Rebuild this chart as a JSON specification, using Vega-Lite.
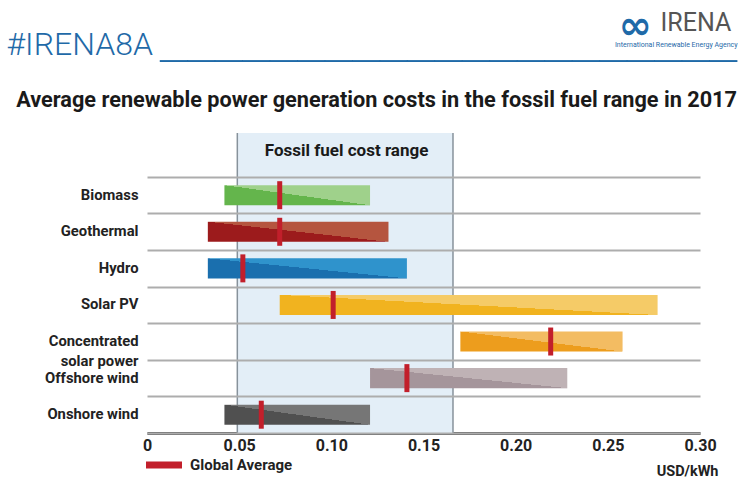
{
  "$schema": "https://vega.github.io/schema/vega-lite/v6.json",
  "width": 553,
  "height": 300,
  "autosize": "none",
  "padding": {"left": 147, "top": 133, "right": 45, "bottom": 50},
  "background": "white",
  "config": {"view": {"stroke": null}, "font": "Roboto"},
  "title": {
    "text": "_____________________",
    "subtitle": "Average renewable power generation costs in the fossil fuel range in 2017",
    "anchor": "end",
    "frame": "group",
    "dx": 37,
    "offset": -106.2,
    "font": "Liberation Sans",
    "fontWeight": "bold",
    "fontSize": 49.4,
    "color": "#1f6aa8",
    "subtitleFont": "Roboto",
    "subtitleFontSize": 21.7,
    "subtitleFontWeight": "bold",
    "subtitleColor": "#1a1a1a",
    "subtitlePadding": 23
  },
  "datasets": {
    "fossil": [{"label": "Fossil fuel cost range", "lo": 0.049, "hi": 0.166}],
    "techs": [
      {"tech": "Biomass", "lo": 0.042, "hi": 0.121, "avg": 0.072},
      {"tech": "Geothermal", "lo": 0.033, "hi": 0.131, "avg": 0.072},
      {"tech": "Hydro", "lo": 0.033, "hi": 0.141, "avg": 0.052},
      {"tech": "Solar PV", "lo": 0.072, "hi": 0.277, "avg": 0.101},
      {"tech": "Concentrated solar power", "lo": 0.17, "hi": 0.258, "avg": 0.219},
      {"tech": "Offshore wind", "lo": 0.121, "hi": 0.228, "avg": 0.141},
      {"tech": "Onshore wind", "lo": 0.042, "hi": 0.121, "avg": 0.062}
    ]
  },
  "resolve": {"axis": {"x": "independent", "y": "independent"}},
  "layer": [
    {
      "data": {"name": "fossil"},
      "mark": {"type": "rect", "color": "#e3eef7"},
      "encoding": {
        "x": {
          "field": "lo", "type": "quantitative",
          "scale": {"domain": [0, 0.3], "nice": false, "zero": true},
          "axis": {
            "orient": "top", "values": [0.108], "zindex": 1, "offset": 0,
            "labelExpr": "'Fossil fuel cost range'",
            "labelFont": "Roboto", "labelFontSize": 17, "labelFontWeight": "bold", "labelColor": "#1a1a1a",
            "labelPadding": -26, "labelFlush": false, "labelOverlap": false,
            "ticks": false, "domain": false, "grid": false,
            "title": "IRENA", "titleX": 513, "titleY": -103, "titleAngle": 0,
            "titleAlign": "left", "titleBaseline": "alphabetic",
            "titleFont": "Roboto", "titleFontSize": 25, "titleFontWeight": "normal", "titleColor": "#555555"
          }
        },
        "x2": {"field": "hi"}
      }
    },
    {
      "data": {"name": "fossil"},
      "mark": {"type": "rule", "color": "#87929b", "strokeWidth": 1.5},
      "encoding": {
        "x": {
          "field": "lo", "type": "quantitative",
          "axis": {
            "orient": "top", "offset": 0, "labels": false, "ticks": false, "domain": false, "grid": false,
            "title": "\u221e", "titleX": 471, "titleY": -95, "titleAngle": 0,
            "titleAlign": "left", "titleBaseline": "alphabetic",
            "titleFont": "DejaVu Sans", "titleFontSize": 40, "titleFontWeight": "bold", "titleColor": "#1f6aa8"
          }
        }
      }
    },
    {
      "data": {"name": "fossil"},
      "mark": {"type": "rule", "color": "#87929b", "strokeWidth": 1.5},
      "encoding": {"x": {"field": "hi", "type": "quantitative", "axis": null}}
    },
    {
      "data": {"name": "techs"},
      "mark": {"type": "bar", "height": {"band": 0.55}},
      "encoding": {
        "y": {
          "field": "tech", "type": "nominal", "sort": null,
          "scale": {"paddingInner": 0, "paddingOuter": 0.6, "align": 1},
          "axis": {
            "orient": "left",
            "labelExpr": "datum.value === 'Concentrated solar power' ? ['Concentrated', 'solar power'] : datum.value",
            "labelFont": "Roboto", "labelFontSize": 14.8, "labelFontWeight": "bold", "labelColor": "#222222",
            "labelPadding": 9, "labelLineHeight": 20,
            "ticks": false, "domain": false,
            "grid": true, "gridColor": "#adadad", "gridWidth": 2, "tickBand": "extent", "zindex": 1,
            "title": "#IRENA8A", "titleX": -141, "titleY": -79, "titleAngle": 0,
            "titleAlign": "left", "titleBaseline": "alphabetic",
            "titleFont": "Roboto", "titleFontSize": 32, "titleFontWeight": 300, "titleColor": "#1f6aa8"
          }
        },
        "x": {
          "field": "lo", "type": "quantitative",
          "axis": {
            "orient": "bottom", "values": [0, 0.05, 0.1, 0.15, 0.2, 0.25, 0.3],
            "labelExpr": "datum.value === 0 ? '0' : format(datum.value, '.2f')",
            "labelFont": "Roboto", "labelFontSize": 16, "labelFontWeight": "bold", "labelColor": "#222222",
            "labelPadding": 4, "labelFlush": false, "labelOverlap": false,
            "ticks": false, "grid": false,
            "domain": true, "domainColor": "#555555", "domainWidth": 3,
            "title": "USD/kWh", "titleX": 571, "titleY": 42, "titleAngle": 0,
            "titleAlign": "right", "titleBaseline": "alphabetic",
            "titleFont": "Roboto", "titleFontSize": 14.5, "titleFontWeight": "bold", "titleColor": "#222222"
          }
        },
        "x2": {"field": "hi"},
        "fill": {
          "condition": [
            {"test": "datum.tech === 'Biomass'", "value": {"gradient": "linear", "x1": 0, "y1": 1, "x2": 1, "y2": 0, "stops": [{"offset": 0, "color": "#64b54c"}, {"offset": 0.5, "color": "#64b54c"}, {"offset": 0.5, "color": "#9fd18b"}, {"offset": 1, "color": "#9fd18b"}]}},
            {"test": "datum.tech === 'Geothermal'", "value": {"gradient": "linear", "x1": 0, "y1": 1, "x2": 1, "y2": 0, "stops": [{"offset": 0, "color": "#9c1b1c"}, {"offset": 0.5, "color": "#9c1b1c"}, {"offset": 0.5, "color": "#b5553f"}, {"offset": 1, "color": "#b5553f"}]}},
            {"test": "datum.tech === 'Hydro'", "value": {"gradient": "linear", "x1": 0, "y1": 1, "x2": 1, "y2": 0, "stops": [{"offset": 0, "color": "#1a6fae"}, {"offset": 0.5, "color": "#1a6fae"}, {"offset": 0.5, "color": "#2f93cc"}, {"offset": 1, "color": "#2f93cc"}]}},
            {"test": "datum.tech === 'Solar PV'", "value": {"gradient": "linear", "x1": 0, "y1": 1, "x2": 1, "y2": 0, "stops": [{"offset": 0, "color": "#f1b31f"}, {"offset": 0.5, "color": "#f1b31f"}, {"offset": 0.5, "color": "#f5cb67"}, {"offset": 1, "color": "#f5cb67"}]}},
            {"test": "datum.tech === 'Concentrated solar power'", "value": {"gradient": "linear", "x1": 0, "y1": 1, "x2": 1, "y2": 0, "stops": [{"offset": 0, "color": "#ed9d1d"}, {"offset": 0.5, "color": "#ed9d1d"}, {"offset": 0.5, "color": "#f3bc62"}, {"offset": 1, "color": "#f3bc62"}]}},
            {"test": "datum.tech === 'Offshore wind'", "value": {"gradient": "linear", "x1": 0, "y1": 1, "x2": 1, "y2": 0, "stops": [{"offset": 0, "color": "#a5959b"}, {"offset": 0.5, "color": "#a5959b"}, {"offset": 0.5, "color": "#bfb2b5"}, {"offset": 1, "color": "#bfb2b5"}]}},
            {"test": "datum.tech === 'Onshore wind'", "value": {"gradient": "linear", "x1": 0, "y1": 1, "x2": 1, "y2": 0, "stops": [{"offset": 0, "color": "#505050"}, {"offset": 0.5, "color": "#505050"}, {"offset": 0.5, "color": "#767676"}, {"offset": 1, "color": "#767676"}]}}
          ],
          "value": "#999999"
        }
      }
    },
    {
      "data": {"name": "techs"},
      "mark": {"type": "tick", "size": 28, "thickness": 5, "opacity": 1},
      "encoding": {
        "y": {
          "field": "tech", "type": "nominal", "sort": null,
          "axis": {
            "orient": "right", "labels": false, "ticks": false, "domain": false, "grid": false,
            "title": "International Renewable Energy Agency", "titleX": 37, "titleY": -87, "titleAngle": 0,
            "titleAlign": "right", "titleBaseline": "alphabetic",
            "titleFont": "Roboto", "titleFontSize": 7, "titleFontWeight": "normal", "titleColor": "#1f6aa8"
          }
        },
        "x": {"field": "avg", "type": "quantitative", "axis": null},
        "color": {
          "datum": "Global Average", "type": "nominal",
          "scale": {"range": ["#c21f2b"]},
          "legend": {
            "orient": "none", "legendX": -1, "legendY": 314,
            "title": null, "padding": 0,
            "symbolType": "M-1,-0.194H1V0.194H-1Z", "symbolSize": 1296, "symbolStrokeWidth": 0, "symbolOpacity": 1,
            "labelFont": "Roboto", "labelFontSize": 15, "labelFontWeight": "bold", "labelColor": "#222222",
            "labelOffset": 8
          }
        }
      }
    }
  ]
}
